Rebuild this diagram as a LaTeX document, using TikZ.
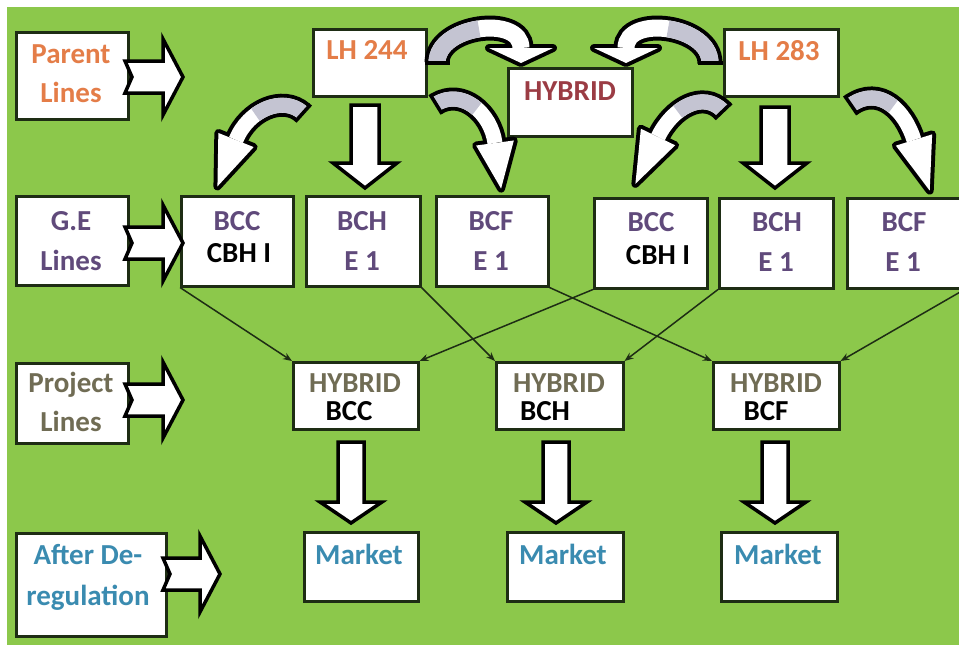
\documentclass[tikz,border=0pt]{standalone}
\usepackage{fontspec}
\setmainfont{Carlito}
\usetikzlibrary{calc,arrows.meta}

\definecolor{bggreen}{RGB}{140,200,75}
\definecolor{boxline}{RGB}{30,45,20}
\definecolor{bentgrey}{RGB}{196,196,210}
\definecolor{txorange}{RGB}{228,125,72}
\definecolor{txmaroon}{RGB}{155,60,68}
\definecolor{txpurple}{RGB}{96,74,123}
\definecolor{txolive}{RGB}{112,108,84}
\definecolor{txblue}{RGB}{58,139,176}

% box given by its corners (x0,y0) and (x1,y1)
\newcommand\bx[5]{%
  \pgfmathsetmacro\bxw{#4-#2}\pgfmathsetmacro\bxh{#5-#3}%
  \node[box, minimum width=\bxw pt, minimum height=\bxh pt] (#1) at (#2,#3) {};}
% one line of text, anchored on its baseline
\newcommand\tx[5]{\node[txt, text=#4] (#1) at (#2,#3) {#5};}
% block arrow pointing right: tail x, tip x, centre y, head length
\newcommand\rarrow[4]{%
  \draw[blk] (#1,#3-16) -- (#2-#4,#3-16) -- (#2-#4,#3-38) -- (#2,#3)
    -- (#2-#4,#3+38) -- (#2-#4,#3+16) -- (#1,#3+16) -- (#1+7,#3) -- cycle;}
% block arrow pointing down: centre x, top y, tip y, shaft half width, head half width, head length
\newcommand\darrow[6]{%
  \draw[blk] (#1-#4,#2) -- (#1+#4,#2) -- (#1+#4,#3-#6) -- (#1+#5,#3-#6) -- (#1,#3)
    -- (#1-#5,#3-#6) -- (#1-#4,#3-#6) -- cycle;}
% curved block arrow: band start, two controls, band end, grey fraction,
% band width, head half width, head length
\newcommand\curvedarrow[8]{%
  \coordinate (ca0) at #1; \coordinate (ca1) at #2;
  \coordinate (ca2) at #3; \coordinate (ca3) at #4;
  \coordinate (cA) at ($(ca0)!#5!(ca1)$);
  \coordinate (cB) at ($(ca1)!#5!(ca2)$);
  \coordinate (cAB) at ($(cA)!#5!(cB)$);
  \coordinate (cC) at ($(ca2)!#5!(ca3)$);
  \coordinate (cBC) at ($(cB)!#5!(cC)$);
  \coordinate (cM) at ($(cAB)!#5!(cBC)$);
  \coordinate (ctip) at ($(ca3)!-#8pt!(ca2)$);
  \coordinate (cb1) at ($(ca3)!#7pt!90:(ca2)$);
  \coordinate (cb2) at ($(ca3)!#7pt!-90:(ca2)$);
  \pgfmathsetlengthmacro\caout{#6pt+8pt}%
  \pgfmathsetlengthmacro\cahalf{#6pt/2+4pt}%
  \coordinate (ce1) at ($(ca0)!\cahalf!90:(ca1)$);
  \coordinate (ce2) at ($(ca0)!\cahalf!-90:(ca1)$);
  \draw[line width=\caout, black] (ca0) .. controls (ca1) and (ca2) .. (ca3);
  \filldraw[black, line width=8pt, line join=round] (cb1) -- (ctip) -- (cb2) -- cycle;
  \draw[line width=#6pt, white] (ca0) .. controls (ca1) and (ca2) .. (ca3);
  \fill[white] (cb1) -- (ctip) -- (cb2) -- cycle;
  \draw[line width=#6pt, bentgrey] (ca0) .. controls (cA) and (cAB) .. (cM);
  \draw[line width=3.5pt, black] (ce1) -- (ce2);}

\begin{document}
\begin{tikzpicture}[x=1pt, y=-1pt,
  box/.style={draw=boxline, fill=white, line width=2.5pt, inner sep=0pt, anchor=north west},
  txt/.style={anchor=base, inner sep=0pt, font=\fontsize{29}{29}\selectfont\bfseries},
  blk/.style={draw=black, fill=white, line width=3.5pt, line join=miter},
  conn/.style={draw=boxline, line width=1.5pt, -{Stealth[length=9pt,width=7pt]}}]
\useasboundingbox (0,0) rectangle (959,645);
\fill[white] (0,0) rectangle (959,645);
\fill[bggreen] (7,7) rectangle (959,645);

% row labels
\bx{parent}{15}{31}{127}{118}
\bx{ge}{15}{195}{127}{284}
\bx{project}{15}{362}{127}{442}
\bx{after}{15}{532}{165}{635}
% parent lines and their cross
\bx{lh244}{312}{28}{425}{95}
\bx{hyb}{507}{67}{631}{135}
\bx{lh283}{723}{28}{837}{95}
% G.E lines
\bx{bcc1}{180}{195}{292}{285}
\bx{bch1}{305}{195}{419}{285}
\bx{bcf1}{435}{195}{547}{285}
\bx{bcc2}{593}{197}{706}{287}
\bx{bch2}{718}{197}{832}{287}
\bx{bcf2}{846}{197}{962}{287}
% project lines
\bx{hbcc}{292}{361}{417}{428}
\bx{hbch}{495}{361}{622}{428}
\bx{hbcf}{712}{361}{838}{428}
% market
\bx{mk1}{303}{531}{417}{600}
\bx{mk2}{506}{531}{622}{600}
\bx{mk3}{720}{531}{836}{600}

% texts
\tx{t1}{71}{63}{txorange}{Parent}
\tx{t2}{71}{102}{txorange}{Lines}
\tx{t3}{71}{230}{txpurple}{G.E}
\tx{t4}{71}{270}{txpurple}{Lines}
\tx{t5}{71}{392}{txolive}{Project}
\tx{t6}{71}{431}{txolive}{Lines}
\tx{t7}{88}{564}{txblue}{After De-}
\tx{t8}{88}{605}{txblue}{regulation}
\tx{t9}{367}{59}{txorange}{LH 244}
\tx{t10}{570}{100}{txmaroon}{HYBRID}
\tx{t11}{779}{60}{txorange}{LH 283}
\tx{t12}{237}{230}{txpurple}{BCC}
\tx{t13}{239}{262}{black}{CBH I}
\tx{t14}{362}{230}{txpurple}{BCH}
\tx{t15}{362}{270}{txpurple}{E 1}
\tx{t16}{491}{230}{txpurple}{BCF}
\tx{t17}{491}{270}{txpurple}{E 1}
\tx{t18}{651}{231}{txpurple}{BCC}
\tx{t19}{658}{264}{black}{CBH I}
\tx{t20}{777}{231}{txpurple}{BCH}
\tx{t21}{776}{271}{txpurple}{E 1}
\tx{t22}{904}{231}{txpurple}{BCF}
\tx{t23}{903}{271}{txpurple}{E 1}
\tx{t24}{355}{392}{txolive}{HYBRID}
\tx{t25}{349}{420}{black}{BCC}
\tx{t26}{559}{392}{txolive}{HYBRID}
\tx{t27}{545}{420}{black}{BCH}
\tx{t28}{776}{392}{txolive}{HYBRID}
\tx{t29}{766}{420}{black}{BCF}
\tx{t30}{359}{564}{txblue}{Market}
\tx{t31}{563}{564}{txblue}{Market}
\tx{t32}{778}{564}{txblue}{Market}

% crossings into the project lines
\draw[conn] (bcc1.south west) -- (hbcc.north west);
\draw[conn] (bcc2.south west) -- (hbcc.north east);
\draw[conn] (bch1.south east) -- (hbch.north west);
\draw[conn] (bch2.south west) -- (hbch.north east);
\draw[conn] (bcf1.south east) -- (hbcf.north west);
\draw[conn] (bcf2.south east) -- (hbcf.north east);

% straight block arrows
\rarrow{125}{183}{77}{20}
\rarrow{125}{183}{243}{20}
\rarrow{125}{183}{400}{20}
\rarrow{163}{220}{574}{20}
\darrow{365}{105}{188}{14}{32}{25}
\darrow{775}{107}{188}{14}{32}{25}
\darrow{351}{442}{523}{13}{31}{21}
\darrow{556}{442}{523}{13}{31}{21}
\darrow{775}{442}{523}{13}{31}{21}

% curved block arrows
\curvedarrow{(437,63)}{(437,25)}{(521,15)}{(521,48)}{0.5}{17}{32}{15}
\curvedarrow{(710,63)}{(710,25)}{(626,15)}{(626,48)}{0.5}{17}{32}{15}
\curvedarrow{(303,113)}{(283,95)}{(248,110)}{(236,140)}{0.65}{15}{19}{50}
\curvedarrow{(723,111)}{(703,90)}{(672,108)}{(658,137)}{0.65}{15}{19}{52}
\curvedarrow{(436,104)}{(462,88)}{(491,113)}{(495,143)}{0.55}{15}{19}{46}
\curvedarrow{(851,105)}{(880,85)}{(905,111)}{(914,140)}{0.55}{15}{19}{53}
\end{tikzpicture}
\end{document}
